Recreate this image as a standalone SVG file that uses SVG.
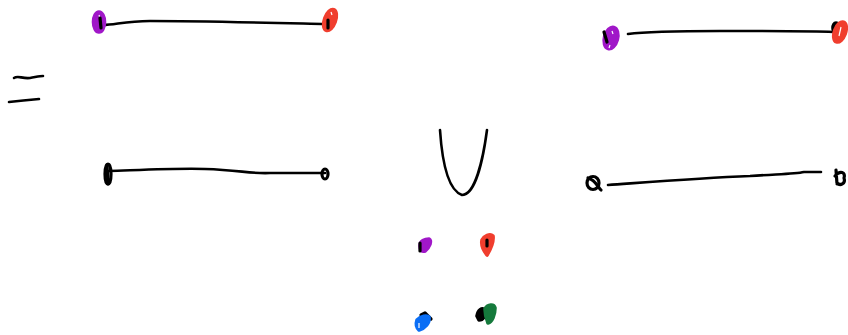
<svg xmlns="http://www.w3.org/2000/svg" width="848" height="335" viewBox="0 0 848 335">
<style>
.s{fill:none;stroke:#000;stroke-width:2.6;stroke-linecap:round;stroke-linejoin:round}
.t{fill:none;stroke:#000;stroke-width:3.2;stroke-linecap:round;stroke-linejoin:round}
.b{stroke-width:3.6;stroke-linecap:round;stroke-linejoin:round}
.p{fill:#a017c8;stroke:#a017c8}
.r{fill:#f03e2e;stroke:#f03e2e}
.u{fill:#0a6ef5;stroke:#0a6ef5}
.g{fill:#157a3c;stroke:#157a3c}
.k{fill:#000;stroke:#000}
.w{fill:none;stroke:#fff;stroke-width:1.2}
</style>
<rect width="848" height="335" fill="#fff"/>
<g id="strokes">
<path class="s" d="M103,25 C115,25 125,21 150,21 C200,21 280,23 326,24"/>
<path class="s" d="M14,78 C18,75 22,79 30,78 C36,77 40,76 43,76"/>
<path class="s" d="M9,102 C18,101 28,100 39,99"/>
<path class="s" d="M628,34 C650,31 690,31 720,31 C780,31 815,31 833,32"/>
<path class="s" d="M109,171 C140,170 180,168 205,169 C240,170 250,174 270,173 C300,173 315,173 325,173"/>
<path class="s" d="M608,185 C650,182 700,178 750,176 C780,174 795,174 804,172 L821,172"/>
<path class="s" d="M440,130 C442,160 448,190 462,195 C475,195 483,160 487,130"/>
</g>
<g id="blobs">
<g id="b1"><ellipse class="b p" cx="99" cy="22" rx="5.5" ry="10"/><path class="w" d="M99,15 L100,18"/><path class="t" d="M100,18 L101,28"/></g>
<g id="b2"><ellipse class="b r" cx="330" cy="20" rx="5.5" ry="11" transform="rotate(20 330 20)"/><path class="w" d="M331,12 L332,15"/><path class="t" d="M328,20 L328,28"/></g>
<g id="b3"><ellipse class="b p" cx="611" cy="38" rx="6.5" ry="11" transform="rotate(15 611 38)"/><path class="w" d="M612,31 L613,34 M610,45 L609,48"/><path class="t" d="M604,32 L607,42"/></g>
<g id="b4"><ellipse class="b k" cx="836" cy="28" rx="3" ry="5"/><ellipse class="b r" cx="840" cy="32" rx="5.5" ry="10.5" transform="rotate(20 840 32)"/><path class="w" d="M841,27 L839,36"/></g>
<g id="b5"><ellipse class="t" cx="108" cy="174" rx="3" ry="10"/><path class="t" d="M107,165 L108,184"/></g>
<g id="b6"><ellipse class="t" cx="325" cy="174" rx="3" ry="5"/></g>
<g id="b7"><ellipse class="t" cx="593" cy="183" rx="6" ry="6.5"/><path class="t" d="M588,178 C596,180 598,188 601,190"/></g>
<g id="b8"><path class="t" d="M836,170 L837,184 M835,176 C840,170 846,172 844,178 C846,184 840,186 837,183"/></g>
<g id="b9"><path class="b p" d="M420,246 C420,241 425,239 429,239 C432,241 430,247 425,251 C422,252 420,250 420,246 Z"/><path class="t" d="M420,243 L420,251"/></g>
<g id="b10"><path class="b r" d="M482,240 C484,236 490,233 493,236 C494,243 490,250 487,255 C483,250 481,245 482,240 Z"/><path class="t" d="M487,240 L487,246"/></g>
<g id="b11"><path class="t" d="M421,315 L425,313 L431,319"/><path class="b u" d="M417,320 C421,316 427,315 429,317 C430,323 425,328 419,330 C416,327 416,323 417,320 Z"/><path class="w" d="M419,323 L419,328"/></g>
<g id="b12"><path class="b k" d="M477,316 C478,310 482,307 485,310 C486,316 483,320 479,320 Z"/><path class="b g" d="M485,309 C488,304 494,304 495,308 C495,315 492,322 488,323 C486,318 485,314 485,309 Z"/></g>
</g>
</svg>
